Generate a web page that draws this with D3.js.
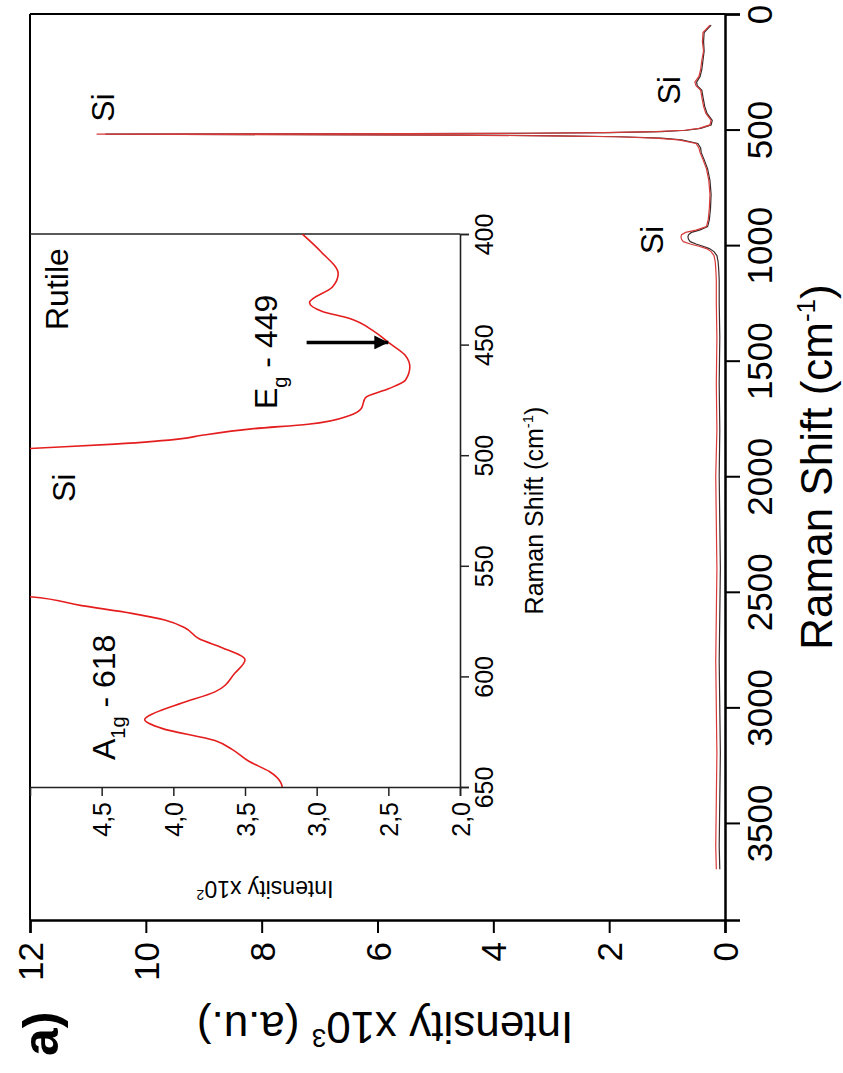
<!DOCTYPE html>
<html>
<head>
<meta charset="utf-8">
<script src="https://cdn.jsdelivr.net/npm/d3@7"></script>
<style>
  body { margin: 0; background: #fff; }
  svg { display: block; font-family: "Liberation Sans", Arial, sans-serif; }
</style>
</head>
<body>
<svg id="chart" width="843" height="1073"></svg>
<script>
// main spectrum (Raman shift in cm-1, intensity x10^3)
var ramanMain = [48, 80, 120, 160, 200, 240, 270, 295, 310, 330, 360, 400, 430, 460, 480, 495, 503, 509, 513, 516, 518, 520, 522, 524, 527, 531, 537, 545, 560, 580, 600, 630, 670, 720, 780, 840, 890, 920, 935, 945, 955, 965, 975, 985, 995, 1005, 1015, 1028, 1045, 1070, 1100, 1150, 1250, 1400, 1600, 1800, 2000, 2200, 2400, 2600, 2800, 3000, 3200, 3400, 3600, 3700];
var redMain = [0.26, 0.38, 0.39, 0.37, 0.40, 0.42, 0.45, 0.52, 0.50, 0.42, 0.40, 0.37, 0.33, 0.24, 0.26, 0.45, 0.70, 1.2, 2.1, 3.6, 5.6, 10.85, 7.4, 4.8, 3.0, 1.9, 1.2, 0.80, 0.50, 0.45, 0.43, 0.38, 0.32, 0.28, 0.26, 0.27, 0.29, 0.32, 0.50, 0.68, 0.75, 0.76, 0.75, 0.72, 0.60, 0.45, 0.32, 0.24, 0.19, 0.17, 0.16, 0.15, 0.15, 0.14, 0.15, 0.14, 0.16, 0.15, 0.14, 0.15, 0.16, 0.15, 0.14, 0.15, 0.16, 0.15];
var darkMain = [0.24, 0.36, 0.37, 0.36, 0.38, 0.40, 0.43, 0.49, 0.48, 0.40, 0.38, 0.35, 0.31, 0.22, 0.24, 0.42, 0.66, 1.1, 2.0, 3.4, 5.4, 10.7, 7.2, 4.6, 2.9, 1.8, 1.1, 0.75, 0.47, 0.42, 0.41, 0.36, 0.30, 0.26, 0.24, 0.25, 0.27, 0.30, 0.44, 0.58, 0.63, 0.64, 0.63, 0.60, 0.50, 0.38, 0.27, 0.19, 0.14, 0.12, 0.11, 0.10, 0.10, 0.09, 0.10, 0.09, 0.10, 0.09, 0.08, 0.09, 0.10, 0.09, 0.08, 0.09, 0.10, 0.09];

// inset spectrum (Raman shift, intensity x10^2)
var ramanInset = [400, 408, 418, 424, 431, 435, 438, 444, 449, 455, 460, 466, 470, 474, 479, 482, 486, 488, 491, 492.5, 495, 497, 500, 530, 561, 564, 568, 571.5, 574.5, 578, 583, 587, 592.5, 598.5, 607, 612, 616.5, 619.5, 623.5, 629, 633, 638.5, 643, 648, 650];
var intInset = [3.10, 2.97, 2.85, 2.89, 3.05, 2.96, 2.78, 2.60, 2.50, 2.38, 2.35, 2.38, 2.50, 2.66, 2.69, 2.77, 3.06, 3.44, 3.80, 3.94, 4.41, 5.0, 5.8, 12, 5.7, 5.0, 4.64, 4.29, 4.06, 3.92, 3.82, 3.66, 3.50, 3.57, 3.71, 3.94, 4.13, 4.20, 4.08, 3.71, 3.59, 3.47, 3.33, 3.25, 3.24];

var ramanTicks = [0, 500, 1000, 1500, 2000, 2500, 3000, 3500];
var ramanMinor = [250, 750, 1250, 1750, 2250, 2750, 3250, 3750];
var intTicks = [0, 2, 4, 6, 8, 10, 12];
var intMinor = [1, 3, 5, 7, 9, 11];
var insetRamanTicks = [400, 450, 500, 550, 600, 650];
var insetRamanMinor = [425, 475, 525, 575, 625];
var insetIntTicks = [2.0, 2.5, 3.0, 3.5, 4.0, 4.5];
var insetIntMinor = [2.25, 2.75, 3.25, 3.75, 4.25, 4.75];

// where the "Si" labels sit (label centre along Raman, baseline along intensity)
var peakLabels = [
  {text: "Si", r: 405, i: 10.55},
  {text: "Si", r: 330, i: 0.78},
  {text: "Si", r: 978, i: 1.07}
];

var svg = d3.select("#chart");

// whole figure is turned on its side: Raman runs down, intensity runs right-to-left
var yR = d3.scaleLinear().domain([0, 3920]).range([14, 920]);
var xI = d3.scaleLinear().domain([0, 12]).range([725, 30]);
var yRi = d3.scaleLinear().domain([400, 650]).range([234, 787]);
var xIi = d3.scaleLinear().domain([2, 5]).range([460, 30]);

// frame
svg.append("line").attr("x1", 30).attr("x2", 725).attr("y1", 14).attr("y2", 14)
  .attr("stroke", "#000").attr("stroke-width", 2);
svg.append("line").attr("x1", 30).attr("x2", 30).attr("y1", 14).attr("y2", 920)
  .attr("stroke", "#000").attr("stroke-width", 2);

// main spectra
var mainLine = function(vals){
  return d3.line()
    .x(function(d, k){ return xI(vals[k]); })
    .y(function(d){ return yR(d); })(ramanMain);
};
svg.append("path").attr("d", mainLine(darkMain))
  .attr("fill", "none").attr("stroke", "#3a2a2a").attr("stroke-width", 1.2);
svg.append("path").attr("d", mainLine(redMain))
  .attr("fill", "none").attr("stroke", "#d83a3a").attr("stroke-width", 1.2);

// raman axis (right)
var gR = svg.append("g").attr("transform", "translate(725,0)");
gR.call(d3.axisRight(yR).tickValues(ramanMinor).tickSize(8).tickFormat(""));
gR.call(d3.axisRight(yR).tickValues(ramanTicks).tickSize(15).tickFormat(d3.format("d")));
gR.selectAll(".domain").attr("stroke-width", 2.5);
gR.selectAll(".tick line").attr("stroke-width", 2);
gR.selectAll(".tick text")
  .attr("x", 0).attr("y", 0).attr("dy", 0)
  .attr("transform", "translate(47,0) rotate(-90)")
  .attr("text-anchor", "middle")
  .attr("font-size", 35).attr("font-family", "Liberation Sans, Arial").attr("fill", "#000");

// intensity axis (bottom)
var gI = svg.append("g").attr("transform", "translate(0,920)");
gI.call(d3.axisBottom(xI).tickValues(intMinor).tickSize(7).tickFormat(""));
gI.call(d3.axisBottom(xI).tickValues(intTicks).tickSize(13).tickFormat(d3.format("d")));
gI.selectAll(".domain").attr("stroke-width", 2.5);
gI.selectAll(".tick line").attr("stroke-width", 2);
gI.selectAll(".tick text")
  .attr("x", 0).attr("y", 0).attr("dy", "0.36em")
  .attr("transform", "translate(0,22) rotate(-90)")
  .attr("text-anchor", "end")
  .attr("font-size", 35).attr("font-family", "Liberation Sans, Arial").attr("fill", "#000");

// axis titles
var tR = svg.append("text")
  .attr("transform", "translate(832," + ((yR(0) + yR(3920)) / 2) + ") rotate(-90)")
  .attr("text-anchor", "middle").attr("font-size", 44);
tR.append("tspan").text("Raman Shift (cm");
tR.append("tspan").attr("dy", -17).attr("font-size", 26).text("-1");
tR.append("tspan").attr("dy", 17).text(")");

var tI = svg.append("text")
  .attr("transform", "translate(385,1012) rotate(180)")
  .attr("text-anchor", "middle").attr("font-size", 44);
tI.append("tspan").text("Intensity x10");
tI.append("tspan").attr("dy", -17).attr("font-size", 26).text("3");
tI.append("tspan").attr("dy", 17).text(" (a.u.)");

svg.append("text")
  .attr("transform", "translate(58,1056) rotate(-90)")
  .attr("font-size", 50).attr("font-weight", "bold").text("a)");

// peak labels on main spectrum
svg.selectAll(".si").data(peakLabels).enter().append("text")
  .attr("class", "si")
  .attr("transform", function(d){ return "translate(" + xI(d.i) + "," + yR(d.r) + ") rotate(-90)"; })
  .attr("text-anchor", "middle")
  .attr("font-size", 32).text(function(d){ return d.text; });

// ---- inset ----
var inset = svg.append("g");
svg.append("clipPath").attr("id", "insetClip").append("rect")
  .attr("x", 30).attr("y", 234).attr("width", 430).attr("height", 553);

inset.append("line").attr("x1", 30).attr("x2", 460).attr("y1", 234).attr("y2", 234)
  .attr("stroke", "#222").attr("stroke-width", 1.6);

inset.append("path")
  .attr("d", d3.line()
    .x(function(d, k){ return xIi(intInset[k]); })
    .y(function(d){ return yRi(d); })
    .curve(d3.curveMonotoneY)(ramanInset))
  .attr("clip-path", "url(#insetClip)")
  .attr("fill", "none").attr("stroke", "#e41e1e").attr("stroke-width", 1.6);

var giR = inset.append("g").attr("transform", "translate(460,0)");
giR.call(d3.axisRight(yRi).tickValues(insetRamanMinor).tickSize(5).tickFormat(""));
giR.call(d3.axisRight(yRi).tickValues(insetRamanTicks).tickSize(9).tickFormat(d3.format("d")));
giR.selectAll(".domain").attr("stroke-width", 1.6).attr("stroke", "#222");
giR.selectAll(".tick line").attr("stroke-width", 1.5).attr("stroke", "#222");
giR.selectAll(".tick text")
  .attr("x", 0).attr("y", 0).attr("dy", 0)
  .attr("transform", "translate(33,0) rotate(-90)")
  .attr("text-anchor", "middle")
  .attr("font-size", 25).attr("font-family", "Liberation Sans, Arial").attr("fill", "#000");

var giI = inset.append("g").attr("transform", "translate(0,787)");
giI.call(d3.axisBottom(xIi).tickValues(insetIntMinor).tickSize(5).tickFormat(""));
giI.call(d3.axisBottom(xIi).tickValues(insetIntTicks).tickSize(9)
  .tickFormat(function(d){ return d3.format(".1f")(d).replace(".", ","); }));
giI.selectAll(".domain").attr("stroke-width", 1.6).attr("stroke", "#222");
giI.selectAll(".tick line").attr("stroke-width", 1.5).attr("stroke", "#222");
giI.selectAll(".tick text")
  .attr("x", 0).attr("y", 0).attr("dy", "0.36em")
  .attr("transform", "translate(0,15) rotate(-90)")
  .attr("text-anchor", "end")
  .attr("font-size", 25).attr("font-family", "Liberation Sans, Arial").attr("fill", "#000");

var tRi = inset.append("text")
  .attr("transform", "translate(543," + ((yRi(400) + yRi(650)) / 2) + ") rotate(-90)")
  .attr("text-anchor", "middle").attr("font-size", 25);
tRi.append("tspan").text("Raman Shift (cm");
tRi.append("tspan").attr("dy", -10).attr("font-size", 15).text("-1");
tRi.append("tspan").attr("dy", 10).text(")");

var tIi = inset.append("text")
  .attr("transform", "translate(265,881) rotate(180)")
  .attr("text-anchor", "middle").attr("font-size", 23);
tIi.append("tspan").text("Intensity x10");
tIi.append("tspan").attr("dy", -9).attr("font-size", 14).text("2");

// inset annotations
inset.append("text")
  .attr("transform", "translate(68,330) rotate(-90)")
  .attr("font-size", 32).text("Rutile");
inset.append("text")
  .attr("transform", "translate(75,502) rotate(-90)")
  .attr("font-size", 32).text("Si");

var eg = inset.append("text")
  .attr("transform", "translate(277,409) rotate(-90)")
  .attr("font-size", 32);
eg.append("tspan").text("E");
eg.append("tspan").attr("dy", 10).attr("font-size", 20).text("g");
eg.append("tspan").attr("dy", -10).text(" - 449");

var ag = inset.append("text")
  .attr("transform", "translate(115,760) rotate(-90)")
  .attr("font-size", 32);
ag.append("tspan").text("A");
ag.append("tspan").attr("dy", 10).attr("font-size", 20).text("1g");
ag.append("tspan").attr("dy", -10).text(" - 618");

// arrow to the Eg peak
svg.append("defs").append("marker")
  .attr("id", "head").attr("viewBox", "0 0 10 10")
  .attr("refX", 10).attr("refY", 5)
  .attr("markerWidth", 6).attr("markerHeight", 4)
  .attr("markerUnits", "strokeWidth").attr("orient", "auto")
  .append("path").attr("d", "M0,0L10,5L0,10z").attr("fill", "#000");
inset.append("line")
  .attr("x1", xIi(3.07)).attr("x2", xIi(2.5))
  .attr("y1", yRi(449)).attr("y2", yRi(449))
  .attr("stroke", "#000").attr("stroke-width", 3.5)
  .attr("marker-end", "url(#head)");
</script>
</body>
</html>
